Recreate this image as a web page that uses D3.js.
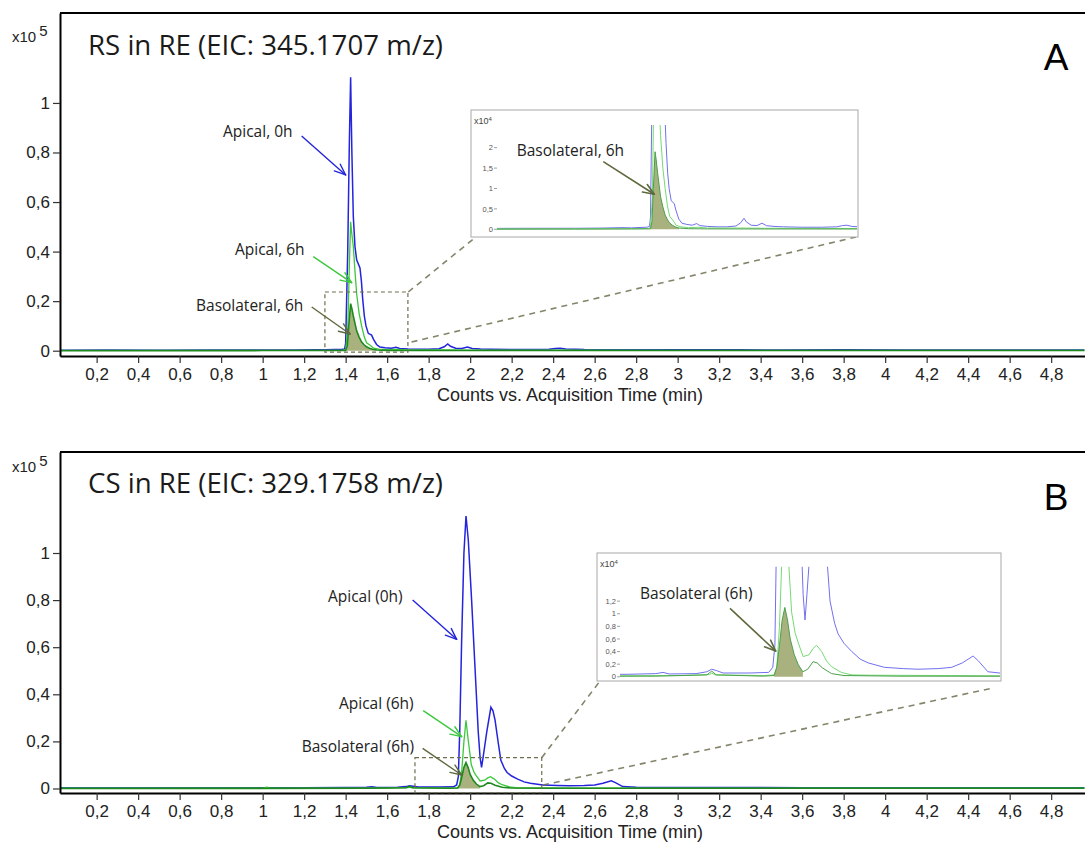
<!DOCTYPE html>
<html><head><meta charset="utf-8">
<script src="https://cdn.jsdelivr.net/npm/d3@7"></script>
<style>body{margin:0;background:#fff;} svg{display:block;}</style>
</head><body>
<svg id="c" width="1085" height="843"></svg>
<script>
// ---------------- DATA ----------------
// time (min), counts
const xTickValues = [0.2,0.4,0.6,0.8,1,1.2,1.4,1.6,1.8,2,2.2,2.4,2.6,2.8,3,3.2,3.4,3.6,3.8,4,4.2,4.4,4.6,4.8];
const yTickValues = [0,20000,40000,60000,80000,100000];
const insetTicksA = [0,5000,10000,15000,20000];
const insetTicksB = [0,2000,4000,6000,8000,10000,12000];

const apical0hA = [[0.02,200],[0.25,250],[0.5,200],[0.75,250],[1.0,250],[1.15,300],[1.25,400],[1.3,350],[1.35,450],[1.38,500],[1.395,700],[1.40,3000],[1.41,40000],[1.418,85000],[1.424,110400],[1.43,80000],[1.437,54000],[1.445,42000],[1.453,36700],[1.469,33400],[1.476,28000],[1.482,21000],[1.49,14000],[1.498,10000],[1.509,7000],[1.525,6300],[1.535,4500],[1.549,2500],[1.565,1500],[1.59,1200],[1.62,1000],[1.643,1400],[1.66,900],[1.70,700],[1.75,600],[1.80,600],[1.85,800],[1.875,1600],[1.892,2700],[1.905,1800],[1.93,1000],[1.96,900],[1.987,1500],[2.01,900],[2.05,700],[2.1,600],[2.2,500],[2.3,500],[2.38,600],[2.41,900],[2.434,1000],[2.46,700],[2.55,450],[2.7,400],[2.9,350],[3.1,400],[3.3,350],[3.5,300],[3.8,350],[4.1,300],[4.4,300],[4.7,280],[4.96,300]];
const apical6hA = [[0.02,100],[0.5,100],[1.0,120],[1.3,150],[1.39,200],[1.40,500],[1.41,8000],[1.418,35000],[1.424,52000],[1.43,47000],[1.437,42000],[1.445,32000],[1.453,23000],[1.465,15000],[1.477,10000],[1.49,5500],[1.501,3200],[1.518,2200],[1.535,1000],[1.56,600],[1.6,400],[1.65,500],[1.7,300],[1.9,300],[2.0,250],[2.5,200],[3,150],[4,150],[4.96,150]];
const baso6hA = [[0.02,0],[1.0,50],[1.3,80],[1.40,100],[1.408,2000],[1.415,10000],[1.424,19000],[1.43,17000],[1.437,14000],[1.445,11000],[1.453,8000],[1.465,5500],[1.477,3500],[1.49,2300],[1.50,1600],[1.515,1000],[1.53,600],[1.55,300],[1.6,150],[1.7,100],[2.0,80],[3.0,60],[4.96,60]];
const basoFillA = [1.40, 1.56];

const apical0hB = [[0.02,300],[0.5,300],[1.0,350],[1.2,350],[1.4,400],[1.5,500],[1.527,700],[1.55,450],[1.65,500],[1.69,800],[1.708,1200],[1.725,1000],[1.75,600],[1.85,600],[1.92,700],[1.935,1500],[1.943,5000],[1.95,25000],[1.959,63000],[1.97,100000],[1.98,115700],[1.991,105500],[2.007,80000],[2.023,52000],[2.039,24000],[2.048,13000],[2.055,9000],[2.062,13000],[2.08,24000],[2.10,34500],[2.11,33000],[2.12,29000],[2.136,19000],[2.148,12000],[2.165,8500],[2.178,6800],[2.2,5300],[2.229,4000],[2.26,2800],[2.29,2200],[2.35,1500],[2.42,1300],[2.475,1200],[2.55,1300],[2.6,1500],[2.64,2200],[2.68,3300],[2.70,2500],[2.735,800],[2.8,500],[3.0,400],[3.2,450],[3.4,450],[3.6,350],[4.0,300],[4.5,300],[4.96,300]];
const apical6hB = [[0.02,100],[0.9,100],[1.0,150],[1.02,600],[1.04,150],[1.3,150],[1.6,200],[1.7,350],[1.708,600],[1.72,300],[1.9,200],[1.94,300],[1.95,1500],[1.96,8000],[1.97,20000],[1.98,29000],[1.99,21000],[2.0,14000],[2.005,10300],[2.018,7000],[2.029,5500],[2.048,3200],[2.07,3500],[2.085,4500],[2.098,5000],[2.117,4000],[2.135,2500],[2.154,1600],[2.19,700],[2.229,300],[2.3,250],[2.6,200],[2.8,150],[3.5,150],[4.96,150]];
const baso6hB = [[0.02,0],[1.5,100],[1.69,300],[1.708,900],[1.725,300],[1.9,100],[1.94,200],[1.95,1500],[1.96,5000],[1.97,9000],[1.98,11000],[1.99,9000],[2.0,6000],[2.015,3500],[2.03,1900],[2.047,800],[2.065,1200],[2.085,2400],[2.1,2200],[2.12,1400],[2.154,500],[2.2,200],[2.4,100],[3,80],[4.96,80]];
const basoFillB = [1.94, 2.05];

// ---------------- STYLE ----------------
const C = {
  blue:"#2424dc", green:"#3cc83c", dark:"#1e8a1e", fill:"#a0aa70",
  iblue:"#7070ee", igreen:"#74da74", idark:"#4aa04a",
  olive:"#5d6a3e", dash:"#6e6e50", text:"#222"
};
const X_DOMAIN = [0.0234, 4.963];
const fmtMain = v => d3.format(".1~f")(v/1e5).replace(".", ",");
const fmtX = v => d3.format(".1~f")(v).replace(".", ",");
const fmtInset = v => d3.format(".1~f")(v/1e4).replace(".", ",");

const svg = d3.select("#c");

const panels = [
 {id:"A", title:"RS in RE (EIC: 345.1707 m/z)", letter:"A",
  yDomain:[-2140,136300], yRange:[356,13], titleY:55, letterY:70, x10Y:41.7, axTitleY:401,
  blue:apical0hA, green:apical6hA, dark:baso6hA, fillRange:basoFillA,
  box:{t:[1.30,1.70], v:[-560,23700]},
  inset:{x:471,y:110,w:387,h:127, l:497,r:857,t:125,b:231, xDomain:[0.592,2.487], yDomain:[-420,25560], ticks:insetTicksA, x10Y:124,
    label:{text:"Basolateral, 6h", tip:[1.420,8580], dx:-51, dy:-32.6, tx:516.7, ty:155.5}},
  conn:[[[408.3,292],[477,236]],[[411.5,342],[856,237]]],
  ann:[
   {text:"Apical, 0h", color:C.blue, tip:[1.400,70930], dx:-44, dy:-39, tx:223, ty:137},
   {text:"Apical, 6h", color:C.green, tip:[1.429,27450], dx:-38.4, dy:-26, tx:235, ty:254.5},
   {text:"Basolateral, 6h", color:C.olive, tip:[1.421,6740], dx:-38.3, dy:-27, tx:196, ty:310.5}
  ]},
 {id:"B", title:"CS in RE (EIC: 329.1758 m/z)", letter:"B",
  yDomain:[-1911,142890], yRange:[793,452], titleY:493, letterY:510, x10Y:471.7, axTitleY:838,
  blue:apical0hB, green:apical6hB, dark:baso6hB, fillRange:basoFillB,
  box:{t:[1.734,2.345], v:[-1800,13080]},
  inset:{x:597,y:553,w:404,h:128, l:620,r:1000,t:566.7,b:679, xDomain:[1.367,2.78], yDomain:[-350,17460], ticks:insetTicksB, x10Y:567,
    label:{text:"Basolateral (6h)", tip:[1.946,4080], dx:-45.7, dy:-42.7, tx:640, ty:598.5}},
  conn:[[[541.7,757.7],[600,681]],[[543,785],[993,688]]],
  ann:[
   {text:"Apical (0h)", color:C.blue, tip:[1.935,63350], dx:-44, dy:-39.3, tx:328, ty:602},
   {text:"Apical (6h)", color:C.green, tip:[1.959,22000], dx:-38.4, dy:-26, tx:339, ty:708.5},
   {text:"Basolateral (6h)", color:C.olive, tip:[1.959,5730], dx:-39, dy:-26.7, tx:301.7, ty:752}
  ]}
];

function arrow(g, x1, y1, x2, y2, color, w) {
  g.append("line").attr("x1",x1).attr("y1",y1).attr("x2",x2).attr("y2",y2)
   .attr("stroke",color).attr("stroke-width",w);
  const ang = Math.atan2(y2-y1, x2-x1), L = 12, a = 0.38;
  [ang+Math.PI-a, ang+Math.PI+a].forEach(t => {
    g.append("line").attr("x1",x2).attr("y1",y2)
     .attr("x2",x2+L*Math.cos(t)).attr("y2",y2+L*Math.sin(t))
     .attr("stroke",color).attr("stroke-width",w).attr("stroke-linecap","round");
  });
}

function traces(g, x, y, p, colors, widths) {
  const line = d3.line().x(d=>x(d[0])).y(d=>y(d[1]));
  const area = d3.area().x(d=>x(d[0])).y0(y(0)).y1(d=>y(d[1]));
  g.append("path").datum(p.blue).attr("d",line).attr("fill","none").attr("stroke",colors[0]).attr("stroke-width",widths[0]);
  g.append("path").datum(p.green).attr("d",line).attr("fill","none").attr("stroke",colors[1]).attr("stroke-width",widths[1]);
  g.append("path").datum(p.dark.filter(d=>d[0]>=p.fillRange[0]&&d[0]<=p.fillRange[1]))
   .attr("d",area).attr("fill",C.fill).attr("fill-opacity",0.9);
  g.append("path").datum(p.dark).attr("d",line).attr("fill","none").attr("stroke",colors[2]).attr("stroke-width",widths[2]);
}

panels.forEach(p => {
  const x = d3.scaleLinear().domain(X_DOMAIN).range([60,1085]);
  const y = d3.scaleLinear().domain(p.yDomain).range(p.yRange);
  const g = svg.append("g");
  const defs = svg.append("defs");
  defs.append("clipPath").attr("id","clip"+p.id).append("rect")
    .attr("x",60).attr("y",p.yRange[1]).attr("width",1025).attr("height",p.yRange[0]-p.yRange[1]);

  const plot = g.append("g").attr("clip-path",`url(#clip${p.id})`);
  traces(plot, x, y, p, [C.blue,C.green,C.dark], [1.5,1.3,1.6]);

  // axes
  const xa = g.append("g").attr("transform",`translate(0,${p.yRange[0]})`)
    .call(d3.axisBottom(x).tickValues(xTickValues).tickSize(7).tickSizeOuter(0).tickPadding(5).tickFormat(fmtX));
  const ya = g.append("g").attr("transform","translate(60,0)")
    .call(d3.axisLeft(y).tickValues(yTickValues).tickSize(7).tickSizeOuter(0).tickPadding(3).tickFormat(fmtMain));
  [xa,ya].forEach(a => {
    a.attr("font-family","'Liberation Sans', Arial, sans-serif").attr("font-size",17);
    a.selectAll("text").attr("fill",C.text);
    a.selectAll(".tick line").attr("stroke","#333").attr("stroke-width",1.2);
    a.select(".domain").attr("stroke","#000").attr("stroke-width",2);
  });
  g.append("line").attr("x1",60).attr("x2",1085).attr("y1",p.yRange[1]).attr("y2",p.yRange[1])
    .attr("stroke","#000").attr("stroke-width",2);

  // axis title
  g.append("text").attr("x",570).attr("y",p.axTitleY).attr("text-anchor","middle")
    .attr("font-family","'Liberation Sans', Arial, sans-serif").attr("font-size",18).attr("fill",C.text)
    .text("Counts vs. Acquisition Time (min)");
  // x10^5
  const t5 = g.append("text").attr("x",12).attr("y",p.x10Y)
    .attr("font-family","'Liberation Sans', Arial, sans-serif").attr("font-size",15).attr("fill",C.text);
  t5.append("tspan").text("x10");
  t5.append("tspan").attr("dx",3).attr("dy",-6).text("5");
  // title
  g.append("text").attr("x",88).attr("y",p.titleY)
    .attr("font-family","'Open Sans', sans-serif").attr("font-size",27).attr("fill","#1a1a1a")
    .attr("textLength",355).attr("lengthAdjust","spacingAndGlyphs").text(p.title);
  // letter
  g.append("text").attr("x",1056).attr("y",p.letterY).attr("text-anchor","middle")
    .attr("font-family","'Liberation Sans', Arial, sans-serif").attr("font-size",37).attr("fill","#000").text(p.letter);

  // zoom box
  const bx0 = x(p.box.t[0]), bx1 = x(p.box.t[1]), by0 = y(p.box.v[1]), by1 = y(p.box.v[0]);
  g.append("rect").attr("x",bx0).attr("y",by0).attr("width",bx1-bx0).attr("height",by1-by0)
    .attr("fill","none").attr("stroke",C.dash).attr("stroke-width",1.2).attr("stroke-dasharray","4,3");
  p.conn.forEach(c => {
    g.append("line").attr("x1",c[0][0]).attr("y1",c[0][1]).attr("x2",c[1][0]).attr("y2",c[1][1])
     .attr("stroke",C.dash).attr("stroke-opacity",0.85).attr("stroke-width",1.6).attr("stroke-dasharray","6,5");
  });

  // inset
  const I = p.inset;
  g.append("rect").attr("x",I.x).attr("y",I.y).attr("width",I.w).attr("height",I.h)
    .attr("fill","#fff").attr("stroke","#a8a8a8").attr("stroke-width",1);
  const ix = d3.scaleLinear().domain(I.xDomain).range([I.l,I.r]);
  const iy = d3.scaleLinear().domain(I.yDomain).range([I.b,I.t]);
  defs.append("clipPath").attr("id","iclip"+p.id).append("rect")
    .attr("x",I.l).attr("y",I.t).attr("width",I.r-I.l).attr("height",I.b-I.t);
  const ip = g.append("g").attr("clip-path",`url(#iclip${p.id})`);
  traces(ip, ix, iy, p, [C.iblue,C.igreen,C.idark], [1,1,1]);
  const it = g.append("g");
  I.ticks.forEach(v => {
    it.append("line").attr("x1",I.l-3).attr("x2",I.l).attr("y1",iy(v)).attr("y2",iy(v)).attr("stroke","#888").attr("stroke-width",0.8);
    it.append("text").attr("x",I.l-4).attr("y",iy(v)).attr("dy","0.35em").attr("text-anchor","end")
      .attr("font-family","'Liberation Sans', Arial, sans-serif").attr("font-size",7.5).attr("fill","#555").text(fmtInset(v));
  });
  const t4 = g.append("text").attr("x",I.x+3).attr("y",I.x10Y)
    .attr("font-family","'Liberation Sans', Arial, sans-serif").attr("font-size",9).attr("fill","#444");
  t4.append("tspan").text("x10");
  t4.append("tspan").attr("dy",-3.5).attr("font-size",6).text("4");
  const L = I.label;
  const ltx = ix(L.tip[0]), lty = iy(L.tip[1]);
  arrow(g, ltx+L.dx, lty+L.dy, ltx, lty, C.olive, 1.6);
  g.append("text").attr("x",L.tx).attr("y",L.ty).attr("font-family","'Open Sans', sans-serif")
    .attr("font-size",15.5).attr("fill",C.text).text(L.text);

  // annotations
  p.ann.forEach(a => {
    const tx = x(a.tip[0]), ty = y(a.tip[1]);
    arrow(g, tx+a.dx, ty+a.dy, tx, ty, a.color, 1.4);
    g.append("text").attr("x",a.tx).attr("y",a.ty).attr("font-family","'Open Sans', sans-serif")
      .attr("font-size",15.5).attr("fill",C.text).text(a.text);
  });
});
</script>
</body></html>
